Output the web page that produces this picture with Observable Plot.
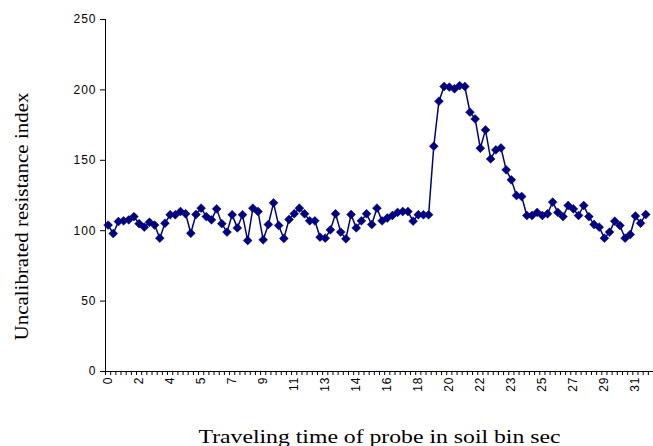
<!DOCTYPE html>
<html><head><meta charset="utf-8">
<script src="https://cdn.jsdelivr.net/npm/d3@7"></script>
<script src="https://cdn.jsdelivr.net/npm/@observablehq/plot@0.6"></script>
<style>
body{margin:0;background:#fff}
#chart{width:653px;height:446px}
g[aria-label="y-axis tick label"] text, g[aria-label="x-axis tick label"] text {letter-spacing: 1px;}
</style>
</head><body><div id="chart"></div>
<script>
// Resistance index readings, one per sample (0.3 s apart)
const values = [
  104, 98, 106.5, 107, 107.7, 110, 105, 102.5, 106, 104,
  94.7, 105.3, 111.3, 111.3, 113.6, 112, 98.2, 111.5, 116, 110,
  107.7, 115.5, 105, 99, 111.3, 102, 111.3, 93, 116, 113.6,
  93.5, 104.4, 119.8, 103.7, 94.5, 108, 112, 116, 112, 107,
  107, 95.4, 94.7, 100.6, 112, 99, 94.2, 111.5, 102, 107,
  112, 104.4, 116, 107, 109, 110.8, 113, 113.6, 113.6, 106.8,
  111.3, 111.3, 111.3, 160, 192, 202.4, 202, 200.8, 203, 202.4,
  184.2, 179.4, 158.6, 171.6, 151, 157.4, 158.8, 143.2, 136.1, 125,
  124.3, 110.8, 110.8, 113, 110.8, 112, 120.3, 113, 110, 117.9,
  115.5, 110.8, 117.9, 110, 104.4, 102.5, 94.7, 99, 106.8, 103.7,
  94.7, 97.3, 110.4, 105.3, 111.5
];
const categoryCount = 106;
const labelEvery = 6;
const tickLabels = ["0","2","4","5","7","9","11","13","14","16","18","20","22","23","25","27","29","31"];
const yTicks = [0, 50, 100, 150, 200, 250];
const xTitle = "Traveling time of probe in soil bin sec";
const yTitle = "Uncalibrated resistance index";

const data = values.map((v, i) => ({i, v}));
const labelPositions = tickLabels.map((_, k) => k * labelEvery);
const boundaries = d3.range(categoryCount + 1).map(i => i - 0.5);
const xDomain = [-0.5, categoryCount - 0.5];
const color = "#000080";
const serif = "'Liberation Serif', 'Times New Roman', serif";

const chart = Plot.plot({
  width: 653,
  height: 446,
  marginLeft: 105,
  marginRight: 0,
  marginTop: 19,
  marginBottom: 75,
  style: {fontFamily: "'Liberation Sans', Arial, sans-serif", fontSize: "12px", color: "#000", background: "#fff"},
  x: {type: "linear", domain: xDomain},
  y: {domain: [0, 250]},
  marks: [
    Plot.axisY({ticks: yTicks, tickSize: 5, tickPadding: 4, label: null, fontSize: 12}),
    Plot.axisX({ticks: boundaries, tickSize: 4, tickFormat: () => "", label: null}),
    Plot.axisX({ticks: labelPositions, tickSize: 0, tickPadding: 5, tickRotate: -90,
      tickFormat: (d) => tickLabels[d / labelEvery], label: null, fontSize: 12}),
    Plot.ruleY([0], {stroke: "#000", strokeWidth: 1}),
    Plot.ruleX([xDomain[0]], {stroke: "#000", strokeWidth: 1}),
    Plot.line(data, {x: "i", y: "v", stroke: color, strokeWidth: 1.5}),
    Plot.dot(data, {x: "i", y: "v", symbol: "diamond2", r: 4, fill: color, stroke: color, strokeWidth: 0.5}),
    Plot.text([yTitle], {frameAnchor: "left", text: d => d, rotate: -90, dx: -83, dy: 21,
      textAnchor: "middle", lineAnchor: "middle", fontFamily: serif, fontSize: 18}),
    Plot.text([xTitle], {frameAnchor: "bottom", text: d => d, dy: 66,
      textAnchor: "middle", lineAnchor: "middle", fontFamily: serif, fontSize: 18})
  ]
});
// widen the title glyphs to the reference's extended lettering
const titleLengths = [248, 362];
d3.select(chart).selectAll('g[aria-label="text"] text')
  .attr("lengthAdjust", "spacingAndGlyphs")
  .attr("textLength", (d, k) => titleLengths[k]);
document.getElementById("chart").appendChild(chart);
</script>
</body></html>
